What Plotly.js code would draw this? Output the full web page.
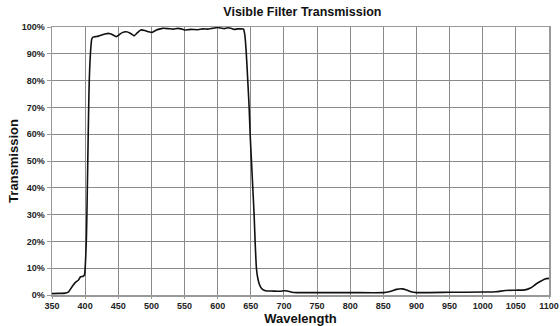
<!DOCTYPE html>
<html>
<head>
<meta charset="utf-8">
<script src="https://cdn.plot.ly/plotly-3.0.1.min.js"></script>
<style>html,body{margin:0;padding:0;background:#fff;}#chart{width:560px;height:326px;}</style>
</head>
<body>
<div id="chart"></div>
<script>
const wavelength = [350,360,370,375,380,385,390,393,397,399,400,401,402,403,404,405,406,408,410,412,415,420,425,430,436,440,447,452,456,462,468,474,479,484,490,496,501,507,512,517,525,533,540,545,550,555,560,570,578,585,592,600,605,610,615,620,625,630,635,639,641,643,645,647.5,649,651,653,655,656.5,658.5,660,662.5,666,670,675,680,690,695,700,705,712,720,750,800,850,860,870,878,885,892,900,950,1000,1020,1034,1050,1064,1072,1080,1088,1094,1100];
const transmission = [0.5,0.6,0.7,1.2,3.0,4.6,5.6,6.8,7.0,7.5,10,15,22,35,50,65,78,90,95.5,96.2,96.4,96.6,97.0,97.4,97.6,97.3,96.4,97.2,97.9,98.2,97.7,96.7,97.9,98.9,98.7,98.2,98.0,98.8,99.2,99.5,99.4,99.2,99.5,99.3,98.9,99.0,99.1,99.0,99.3,99.2,99.5,99.8,99.6,99.4,99.7,99.5,99.1,99.3,99.3,99.2,97,91,82,70,60,50,40,30,20,10,7,4.3,2.5,1.8,1.5,1.5,1.4,1.4,1.6,1.5,1.0,0.9,0.9,0.9,0.9,1.3,2.1,2.3,1.9,1.2,0.9,1.0,1.1,1.2,1.7,1.8,1.9,2.6,4.0,5.2,6.0,6.2];
const xTicks = [350,400,450,500,550,600,650,700,750,800,850,900,950,1000,1050,1100];
const yTicks = [0,10,20,30,40,50,60,70,80,90,100];

const tickFont = {family: 'Liberation Sans Narrow, Arial Narrow, Liberation Sans, Arial, sans-serif', size: 9, color: '#222', weight: 'bold'};
const titleFont = {family: 'Liberation Sans, Arial, sans-serif', size: 13, color: '#111'};

Plotly.newPlot('chart', [{
  x: wavelength, y: transmission, type: 'scatter', mode: 'lines',
  line: {color: '#111', width: 1.6, shape: 'spline', smoothing: 0.5},
  hoverinfo: 'skip'
}], {
  width: 560, height: 326,
  margin: {l: 52, r: 11, t: 27, b: 31, pad: 0},
  paper_bgcolor: '#fff', plot_bgcolor: '#fff',
  showlegend: false,
  title: {text: '<b>Visible Filter Transmission</b>', font: {family: 'Liberation Sans, Arial, sans-serif', size: 12.5, color: '#111'}, x: 0.54, xanchor: 'center', yref: 'container', y: 0.963, yanchor: 'middle'},
  xaxis: {
    range: [350, 1100], tickvals: xTicks, ticktext: xTicks.map(String),
    showgrid: true, gridcolor: '#8a8a8a', gridwidth: 1,
    showline: true, mirror: true, linecolor: '#999', linewidth: 1.5,
    ticks: 'outside', ticklen: 2, tickcolor: '#999',
    tickfont: tickFont, zeroline: false, ticklabeloverflow: 'allow',
    title: {text: '<b>Wavelength</b>', font: titleFont, standoff: 1}
  },
  yaxis: {
    range: [0, 100], tickvals: yTicks, ticktext: yTicks.map(v => v + '%'),
    showgrid: true, gridcolor: '#8a8a8a', gridwidth: 1,
    showline: true, mirror: true, linecolor: '#999', linewidth: 1.5,
    ticks: 'outside', ticklen: 4, tickcolor: '#999',
    tickfont: tickFont, zeroline: false,
    title: {text: '<b>Transmission</b>', font: titleFont, standoff: 0}
  }
}, {staticPlot: true, displayModeBar: false});
</script>
</body>
</html>
